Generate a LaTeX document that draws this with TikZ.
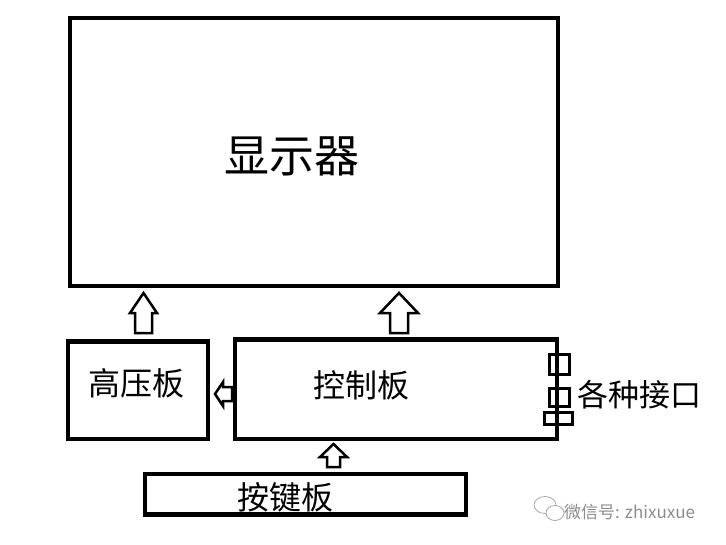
\documentclass[tikz,border=0pt]{standalone}
\usepackage{fontspec}
\newfontfamily\cjk{Noto Sans CJK SC}
\begin{document}
\begin{tikzpicture}[x=1pt,y=-1pt,
  box/.style={draw,line width=4.5pt,rectangle,inner sep=0pt},
  port/.style={draw,line width=3pt,rectangle,inner sep=0pt},
  blockarrow/.style={draw,line width=2.5pt,line join=miter,fill=white},
  lbl/.style={inner sep=0pt,font=\cjk\fontsize{32}{32}\selectfont},
  wm/.style={inner sep=0pt,text=black!45,font=\cjk\fontsize{17}{17}\selectfont}]
\useasboundingbox (0,0) rectangle (726,544);
% boxes
\node[box,minimum width=488pt,minimum height=268pt] (disp) at (314,152) {};
\node[inner sep=0pt,font=\cjk\fontsize{45}{45}\selectfont] (disptxt) at (292,156) {显示器};
\node[box,minimum width=140pt,minimum height=97.5pt] (hv) at (138,390) {};
\node[lbl] (hvtxt) at (136,383) {高压板};
\node[box,minimum width=322pt,minimum height=99.5pt] (ctrl) at (396,389) {};
\node[lbl] (ctrltxt) at (361,385) {控制板};
\node[box,minimum width=321pt,minimum height=40.5pt] (key) at (305.5,494) {};
\node[lbl] (keytxt) at (285,497) {按键板};
% ports
\node[port,minimum width=20pt,minimum height=20pt] (p1) at (559,364) {};
\node[port,minimum width=20pt,minimum height=18pt] (p2) at (559,397) {};
\node[port,minimum width=28pt,minimum height=12pt] (p3) at (558,418) {};
\node[lbl,font=\cjk\fontsize{31}{31}\selectfont,anchor=west] (porttxt) at (577,395) {各种接口};
% block arrows
\draw[blockarrow] (143.5,293) -- (157,313) -- (152,313) -- (152,333) -- (135,333) -- (135,313) -- (130,313) -- cycle;
\draw[blockarrow] (399,293) -- (418,313) -- (408,313) -- (408,333) -- (390,333) -- (390,313) -- (380,313) -- cycle;
\draw[blockarrow] (215,394) -- (223,382) -- (223,387) -- (232,387) -- (232,401) -- (223,401) -- (223,406) -- cycle;
\draw[blockarrow] (333.5,444) -- (347,457) -- (340,457) -- (340,467) -- (327,467) -- (327,457) -- (320,457) -- cycle;
% watermark
\draw[black!35,line width=0.8pt] (545,505) ellipse (11pt and 8.5pt);
\draw[black!35,line width=0.8pt,fill=white] (555,513) ellipse (9pt and 7.5pt);
\node[wm,anchor=west] (wmtxt) at (564,512) {微信号: zhixuxue};
\end{tikzpicture}
\end{document}
